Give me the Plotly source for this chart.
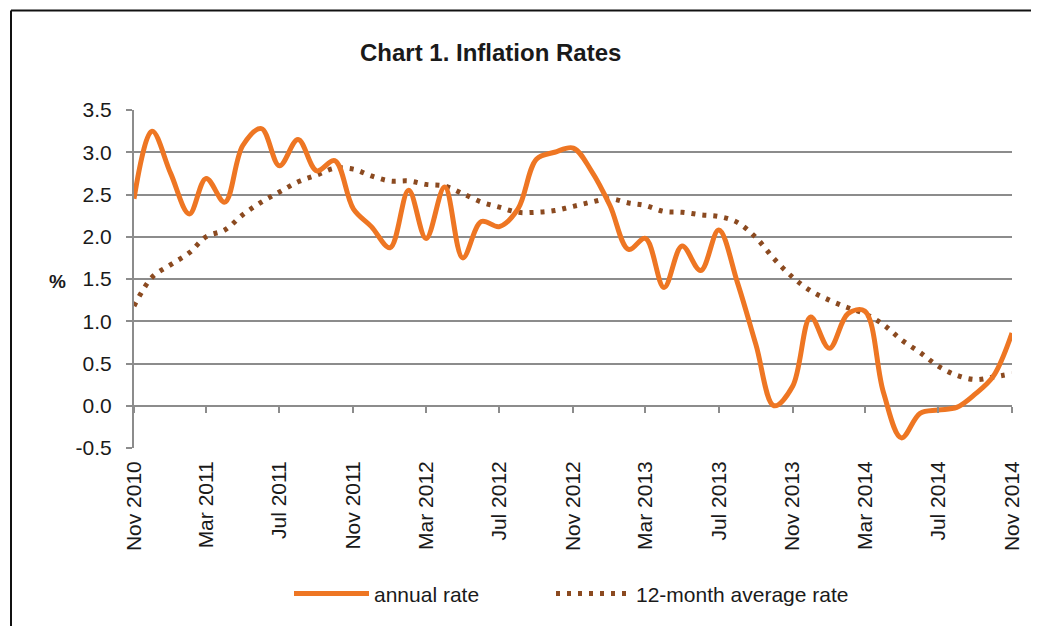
import pandas as pd
import plotly.graph_objects as go

months = pd.date_range("2010-11-01", "2014-11-01", freq="MS")

annual_rate = [2.45, 3.25, 2.75, 2.27, 2.69, 2.41, 3.08, 3.28, 2.84, 3.15,
               2.78, 2.90, 2.33, 2.12, 1.87, 2.55, 1.98, 2.59, 1.75, 2.18,
               2.12, 2.33, 2.92, 3.00, 3.05, 2.78, 2.37, 1.85, 1.98, 1.40,
               1.89, 1.60, 2.08, 1.46, 0.72, 0.00, 0.23, 1.05, 0.68, 1.09,
               1.12, 0.16, -0.38, -0.09, -0.05, -0.02, 0.14, 0.35, 0.86]

avg_rate = [1.18, 1.52, 1.67, 1.81, 2.00, 2.08, 2.26, 2.41, 2.53, 2.65,
            2.73, 2.81, 2.80, 2.72, 2.66, 2.66, 2.62, 2.60, 2.51, 2.41,
            2.35, 2.29, 2.29, 2.31, 2.36, 2.41, 2.45, 2.40, 2.37, 2.30,
            2.29, 2.26, 2.24, 2.17, 1.99, 1.74, 1.52, 1.36, 1.25, 1.16,
            1.09, 0.96, 0.78, 0.63, 0.47, 0.36, 0.31, 0.34, 0.38]

y_ticks = [-0.5, 0.0, 0.5, 1.0, 1.5, 2.0, 2.5, 3.0, 3.5]
y_tick_labels = ["-0.5", "0.0", "0.5", "1.0", "1.5", "2.0", "2.5", "3.0", "3.5"]

ORANGE = "#EE7623"
BROWN = "#8B4A20"
GRID = "#8C8C8C"
FONT = "Arial, Liberation Sans, sans-serif"

fig = go.Figure()
fig.add_trace(go.Scatter(
    x=months, y=annual_rate, name="annual rate", mode="lines",
    line=dict(color=ORANGE, width=5, shape="spline", smoothing=1.0),
    xaxis="x2", yaxis="y", legend="legend"))
fig.add_trace(go.Scatter(
    x=months, y=avg_rate, name="12-month average rate", mode="lines",
    line=dict(color=BROWN, width=5, dash="4px,7px", shape="spline", smoothing=1.0),
    xaxis="x", yaxis="y", legend="legend2"))

# the page body adds an 8px offset; layout numbers below are screen pixels
OFF = 8
W, H = 1039 - OFF, 626 - OFF
PL, PR, PT, PB = 134, 1012, 110, 453          # plot area in screen px
L, R, T, B = PL - OFF, (W + OFF) - PR, PT - OFF, (H + OFF) - PB
pw, ph = PR - PL, PB - PT

def px_x(p):
    return (p - PL) / pw

def px_y(p):
    return (PB - p) / ph

legend_common = dict(orientation="h", xanchor="left", yanchor="middle",
                     y=px_y(601), font=dict(size=21, color="#1a1a1a"),
                     itemwidth=75, bgcolor="rgba(0,0,0,0)")

fig.update_layout(
    width=W, height=H,
    margin=dict(l=L, r=R, t=T, b=B),
    paper_bgcolor="white", plot_bgcolor="white",
    font=dict(family=FONT, size=21, color="#1a1a1a"),
    showlegend=True,
    legend=dict(x=px_x(289), **legend_common),
    legend2=dict(x=px_x(551), **legend_common),
    xaxis=dict(
        range=[months[0], months[-1]],
        tickmode="linear", tick0="2010-11-01", dtick="M4",
        tickformat="%b %Y", tickangle=-90,
        showgrid=False, zeroline=False, showline=False, ticks="",
        ticklabelstandoff=8,
        tickfont=dict(size=21, color="#1a1a1a"),
    ),
    xaxis2=dict(
        overlaying="x", matches="x", anchor="free", position=0.125,
        tickmode="linear", tick0="2010-11-01", dtick="M4",
        showticklabels=False, showgrid=False, zeroline=False, showline=False,
        ticks="outside", ticklen=6, tickwidth=2, tickcolor=GRID,
    ),
    yaxis=dict(
        range=[-0.5, 3.5], tickmode="array", tickvals=y_ticks, ticktext=y_tick_labels,
        showgrid=True, gridcolor=GRID, gridwidth=2,
        zeroline=True, zerolinecolor=GRID, zerolinewidth=2,
        showline=True, linecolor=GRID, linewidth=2,
        ticks="outside", ticklen=6, tickwidth=2, tickcolor=GRID,
        ticklabelstandoff=10,
        tickfont=dict(size=21, color="#1a1a1a"),
    ),
    annotations=[
        dict(text="<b>Chart 1. Inflation Rates</b>", xref="paper", yref="paper",
             x=px_x(490), y=px_y(52), xanchor="center", yanchor="middle",
             showarrow=False, font=dict(size=24, color="#1a1a1a")),
        dict(text="<b>%</b>", xref="paper", yref="paper",
             x=px_x(57), y=px_y(284), xanchor="center", yanchor="middle",
             showarrow=False, font=dict(size=19, color="#1a1a1a")),
    ],
    shapes=[
        dict(type="line", xref="paper", yref="paper",
             x0=px_x(11), x1=px_x(11), y0=px_y(9), y1=px_y(640),
             line=dict(color="#111111", width=2)),
        dict(type="line", xref="paper", yref="paper",
             x0=px_x(11), x1=px_x(1050), y0=px_y(9), y1=px_y(9),
             line=dict(color="#111111", width=2)),
    ],
)

fig.write_html("out.html")
